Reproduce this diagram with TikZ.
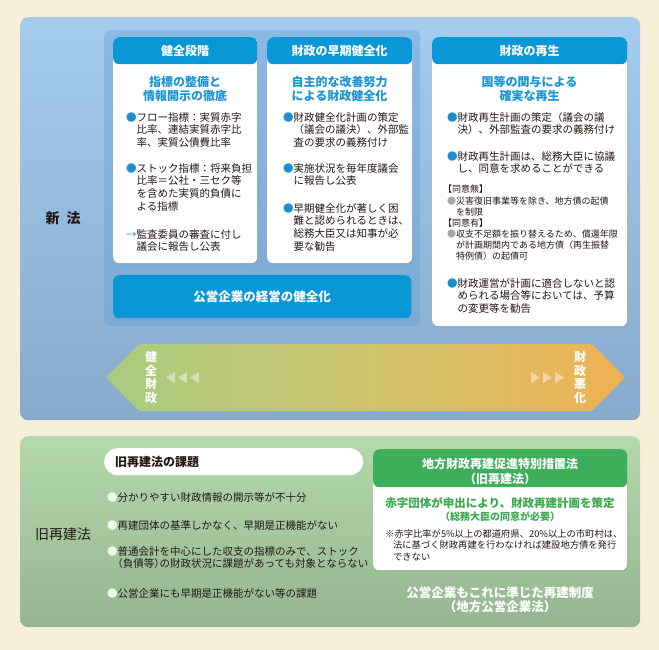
\documentclass[tikz,border=0pt]{standalone}
\usepackage{fontspec}
\setmainfont{Noto Sans CJK JP}
\usepackage{xcolor}
\usetikzlibrary{positioning,shadows}
\definecolor{cream}{HTML}{F7F0D8}
\definecolor{newtop}{HTML}{A3CCEE}
\definecolor{newbot}{HTML}{87AACB}
\definecolor{groupblue}{HTML}{5E9BD2}
\definecolor{headblue}{HTML}{0A97D8}
\definecolor{subblue}{HTML}{1A95D5}
\definecolor{bulletblue}{HTML}{1C8FD2}
\definecolor{oldtop}{HTML}{B4D9AC}
\definecolor{oldbot}{HTML}{94B590}
\definecolor{headgreen}{HTML}{3DAE5A}
\definecolor{textgreen}{HTML}{3BAA4F}
\definecolor{healthy}{HTML}{A7CC7F}
\definecolor{midband}{HTML}{CFC46E}
\definecolor{worse}{HTML}{EEB152}
\definecolor{ink}{HTML}{231815}
\tikzset{
    % panel styles
    card/.style={rectangle, fill=white, rounded corners=6pt, inner sep=0pt, anchor=north west,
                 drop shadow={opacity=0.18, shadow xshift=1pt, shadow yshift=-1.5pt}},
    headed card/.style n args={2}{card, path picture={
        \fill[#1] (path picture bounding box.north west) rectangle ([yshift=-#2]path picture bounding box.north east);}},
    % text styles
    head text/.style={text=white, align=center, font=\fontsize{12}{15}\selectfont\bfseries},
    sub text/.style={text=subblue, align=center, font=\fontsize{12}{14}\selectfont\bfseries},
    body/.style={anchor=north west, align=left, inner sep=0pt, text=ink, font=\fontsize{10.5}{12.7}\selectfont},
    small/.style={body, font=\fontsize{9}{11.3}\selectfont},
    note/.style={body, font=\fontsize{9.3}{11.5}\selectfont},
    vert text/.style={text=white, align=center, font=\fontsize{12}{13.5}\selectfont\bfseries},
    side label/.style={text=ink, font=\fontsize{14}{16}\selectfont},
    pointer/.style={fill=white, fill opacity=0.45},
}
\newcommand{\bl}{\textcolor{bulletblue}{●}}
\newcommand{\gb}{\textcolor{black!35}{●}}
\newcommand{\wb}{\textcolor{white!92!green}{●}}
\newcommand{\ind}{\hspace*{1em}}

\begin{document}
\begin{tikzpicture}[x=1pt, y=-1pt]
    \useasboundingbox (0,0) rectangle (659,650);
    \fill[cream] (0,0) rectangle (659,650);

    % New law panel
    \node[rectangle, rounded corners=8pt, top color=newtop, bottom color=newbot, minimum width=620pt,
          minimum height=403pt, anchor=north west, inner sep=0pt] (newlaw) at (20,17) {};
    \node[side label, font=\fontsize{14}{16}\selectfont\bfseries] (newlbl) at (63,218) {新\hspace{0.5em}法};
    \node[rectangle, rounded corners=6pt, fill=groupblue, fill opacity=0.35, minimum width=316pt,
          minimum height=296pt, anchor=north west, inner sep=0pt] (group) at (104,30) {};

    % Healthy stage
    \node[headed card={headblue}{27pt}, minimum width=144pt, minimum height=226pt] (kenzen) at (113,37) {};
    \node[head text] (kenzenhd) at (185,50.5) {健全段階};
    \node[sub text] (kenzensub) at (185,89) {指標の整備と\\情報開示の徹底};
    \node[body] (flow) at (126,112) {\bl フロー指標：実質赤字\\\ind 比率、連結実質赤字比\\\ind 率、実質公債費比率};
    \node[body] (stock) at (126,163) {\bl ストック指標：将来負担\\\ind 比率＝公社・三セク等\\\ind を含めた実質的負債に\\\ind よる指標};
    \node[body] (audit) at (126,229) {\textcolor{bulletblue}{→}監査委員の審査に付し\\\ind 議会に報告し公表};

    % Early stage
    \node[headed card={headblue}{27pt}, minimum width=145pt, minimum height=226pt] (early) at (267,37) {};
    \node[head text] (earlyhd) at (339.5,50.5) {財政の早期健全化};
    \node[sub text] (earlysub) at (339.5,89) {自主的な改善努力\\による財政健全化};
    \node[body] (plan) at (283,112) {\bl 財政健全化計画の策定\\\ind （議会の議決）、外部監\\\ind 査の要求の義務付け};
    \node[body] (report) at (283,163) {\bl 実施状況を毎年度議会\\\ind に報告し公表};
    \node[body] (advice) at (283,203) {\bl 早期健全化が著しく困\\\ind 難と認められるときは、\\\ind 総務大臣又は知事が必\\\ind 要な勧告};

    % Public enterprises
    \node[card, fill=headblue, minimum width=298pt, minimum height=43pt, text=white,
          font=\fontsize{12.5}{15}\selectfont\bfseries] (enterprise) at (113,275) {公営企業の経営の健全化};

    % Rebuilding stage
    \node[headed card={headblue}{27pt}, minimum width=195pt, minimum height=289pt] (saisei) at (432,37) {};
    \node[head text] (saiseihd) at (529.5,50.5) {財政の再生};
    \node[sub text] (saiseisub) at (529.5,89) {国等の関与による\\確実な再生};
    \node[body] (rplan) at (447,112) {\bl 財政再生計画の策定（議会の議\\\ind 決）、外部監査の要求の義務付け};
    \node[body] (consult) at (447,151) {\bl 財政再生計画は、総務大臣に協議\\\ind し、同意を求めることができる};
    \node[small] (nocons) at (443,184.5) {【同意無】};
    \node[small] (limit) at (447,196.5) {\gb 災害復旧事業等を除き、地方債の起債\\\ind を制限};
    \node[small] (withcons) at (443,218.5) {【同意有】};
    \node[small] (special) at (447,229.5) {\gb 収支不足額を振り替えるため、償還年限\\\ind が計画期間内である地方債（再生振替\\\ind 特例債）の起債可};
    \node[body] (budget) at (447,278) {\bl 財政運営が計画に適合しないと認\\\ind められる場合等においては、予算\\\ind の変更等を勧告};

    % Healthy -- worse band
    \path[left color=healthy, right color=worse, middle color=midband, rounded corners=2pt]
        (106,377.5) -- (139,344) -- (592,344) -- (625,377.5) -- (592,411) -- (139,411) -- cycle;
    \node[vert text] (good) at (151,377.5) {健\\全\\財\\政};
    \node[vert text] (bad) at (580,377.5) {財\\政\\悪\\化};
    \fill[pointer] (166,377.5) -- (175,372) -- (175,383) -- cycle
                   (178,377.5) -- (187,372) -- (187,383) -- cycle
                   (190,377.5) -- (199,372) -- (199,383) -- cycle;
    \fill[pointer] (540,377.5) -- (531,372) -- (531,383) -- cycle
                   (552,377.5) -- (543,372) -- (543,383) -- cycle
                   (564,377.5) -- (555,372) -- (555,383) -- cycle;

    % Old law panel
    \node[rectangle, rounded corners=8pt, top color=oldtop, bottom color=oldbot, minimum width=620pt,
          minimum height=191pt, anchor=north west, inner sep=0pt] (oldlaw) at (20,436) {};
    \node[side label] (oldlbl) at (63,534) {旧再建法};
    \node[rectangle, rounded corners=13.5pt, fill=white, minimum width=259pt, minimum height=27pt,
          anchor=north west, inner sep=0pt] (issues) at (104,448) {};
    \node[anchor=west, inner sep=0pt, text=ink, font=\fontsize{12}{14}\selectfont\bfseries] (issueshd)
        at (115,461.5) {旧再建法の課題};
    \node[body] (disclose) at (107,492) {\wb 分かりやすい財政情報の開示等が不十分};
    \node[body] (standard) at (107,520) {\wb 再建団体の基準しかなく、早期是正機能がない};
    \node[body] (account) at (107,546) {\wb 普通会計を中心にした収支の指標のみで、ストック\\\ind\kern-0.5em（負債等）\kern-0.5em の財政状況に課題があっても対象とならない};
    \node[body] (entissue) at (107,588) {\wb 公営企業にも早期是正機能がない等の課題};

    % Special measures act
    \node[headed card={headgreen}{38pt}, minimum width=254pt, minimum height=121pt] (actbox) at (373,449) {};
    \node[head text] (acthd) at (500,471.5) {地方財政再建促進特別措置法\\（旧再建法）};
    \node[text=textgreen, font=\fontsize{11.5}{13}\selectfont\bfseries] (apply) at (500,503) {赤字団体が申出により、財政再建計画を策定};
    \node[text=textgreen, font=\fontsize{10}{12}\selectfont\bfseries] (consent) at (500,517) {（総務大臣の同意が必要）};
    \node[note] (ratio) at (385,529) {※赤字比率が5\%以上の都道府県、20\%以上の市町村は、\\\hspace*{0.85em}法に基づく財政再建を行わなければ建設地方債を発行\\\hspace*{0.85em}できない};
    \node[head text, font=\fontsize{12.5}{14}\selectfont\bfseries] (entold) at (500,600) {公営企業もこれに準じた再建制度\\（地方公営企業法）};
\end{tikzpicture}
\end{document}
